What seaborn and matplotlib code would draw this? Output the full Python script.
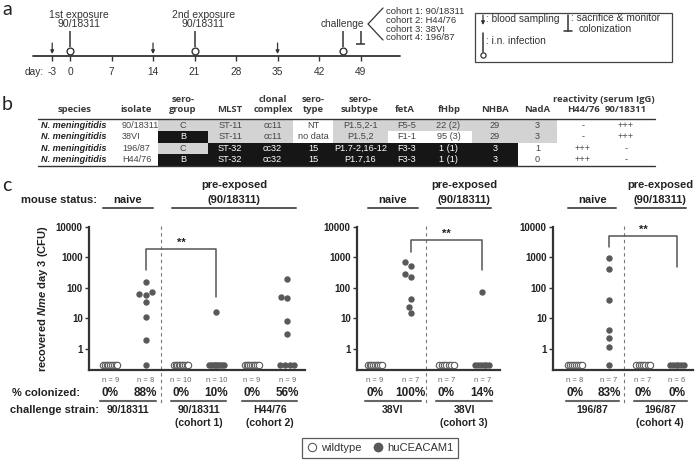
import matplotlib
matplotlib.use('Agg')
import matplotlib.pyplot as plt
import matplotlib.transforms as mtransforms
from matplotlib.lines import Line2D
from matplotlib.patches import Rectangle
import numpy as np
import pandas as pd
import seaborn as sns

# ---- a: immunisation schedule (days)
day_ticks = [-3, 0, 7, 14, 21, 28, 35, 42, 49]
blood_days = [-3, 14, 35]
exposure_days = [0, 21]
exposure_names = ["1st exposure", "2nd exposure"]
exposure_strain = "90/18311"
challenge_day = 46
sacrifice_day = 49
cohort_labels = ["cohort 1: 90/18311", "cohort 2: H44/76", "cohort 3: 38VI", "cohort 4: 196/87"]

# ---- b: strain table
species = ["N. meningitidis", "N. meningitidis", "N. meningitidis", "N. meningitidis"]
isolates = ["90/18311", "38VI", "196/87", "H44/76"]
serogroup = ["C", "B", "C", "B"]
mlst = ["ST-11", "ST-11", "ST-32", "ST-32"]
clonal_complex = ["cc11", "cc11", "cc32", "cc32"]
serotype = ["NT", "no data", "15", "15"]
serosubtype = ["P1.5,2-1", "P1.5,2", "P1.7-2,16-12", "P1.7,16"]
feta = ["F5-5", "F1-1", "F3-3", "F3-3"]
fhbp = ["22 (2)", "95 (3)", "1 (1)", "1 (1)"]
nhba = ["29", "29", "3", "3"]
nada = ["3", "3", "1", "0"]
igg_h44 = ["-", "-", "+++", "+++"]
igg_90 = ["+++", "+++", "-", "-"]
# 0 white, 1 grey, 2 black (shared alleles)
cell_shade = [
    [1, 1, 1, 0, 1, 1, 1, 1, 1],
    [2, 1, 1, 0, 1, 0, 0, 1, 1],
    [1, 2, 2, 2, 2, 2, 2, 2, 0],
    [2, 2, 2, 2, 2, 2, 2, 2, 0],
]

# ---- c: recovered Nme day 3, CFU per mouse (0 = not colonized)
p1_genotype = ["wt", "hu", "wt", "hu", "wt", "hu"]
p1_cfu = [
    [0, 0, 0, 0, 0, 0, 0, 0, 0],
    [160, 75, 65, 60, 35, 11, 2, 0],
    [0, 0, 0, 0, 0, 0, 0, 0, 0, 0],
    [16, 0, 0, 0, 0, 0, 0, 0, 0, 0],
    [0, 0, 0, 0, 0, 0, 0, 0, 0],
    [190, 52, 47, 8, 3, 0, 0, 0, 0],
]
p1_colonized = ["0%", "88%", "0%", "10%", "0%", "56%"]
p1_strains = ["90/18311", "90/18311\n(cohort 1)", "H44/76\n(cohort 2)"]

p2_genotype = ["wt", "hu", "wt", "hu"]
p2_cfu = [
    [0, 0, 0, 0, 0, 0, 0, 0, 0],
    [730, 540, 275, 220, 44, 24, 15],
    [0, 0, 0, 0, 0, 0, 0],
    [75, 0, 0, 0, 0, 0, 0],
]
p2_colonized = ["0%", "100%", "0%", "14%"]
p2_strains = ["38VI", "38VI\n(cohort 3)"]

p3_genotype = ["wt", "hu", "wt", "hu"]
p3_cfu = [
    [0, 0, 0, 0, 0, 0, 0, 0],
    [930, 430, 40, 4, 2.2, 1.1, 0],
    [0, 0, 0, 0, 0, 0, 0],
    [0, 0, 0, 0, 0, 0],
]
p3_colonized = ["0%", "83%", "0%", "0%"]
p3_strains = ["196/87", "196/87\n(cohort 4)"]

y_ticks = [1, 10, 100, 1000, 10000]
y_tick_labels = ["1", "10", "100", "1000", "10000"]

sns.set_style("ticks")
plt.rcParams['font.family'] = ['Liberation Sans', 'DejaVu Sans']
plt.rcParams['mathtext.fontset'] = 'custom'
plt.rcParams['mathtext.bfit'] = 'Liberation Sans:bold:italic'
plt.rcParams['mathtext.rm'] = 'Liberation Sans:bold'

W, H = 697, 462
fig = plt.figure(figsize=(W / 100, H / 100), dpi=100)
dark = '#333333'
dot = '#595959'


def box(x0, y0, x1, y1):
    # pixel box (y downwards) -> figure fraction rect
    return [x0 / W, 1 - y1 / H, (x1 - x0) / W, (y1 - y0) / H]


# overlay in pixel coordinates for texts / schematic parts
ov = fig.add_axes([0, 0, 1, 1])
ov.set_xlim(0, W)
ov.set_ylim(H, 0)
ov.set_axis_off()

# timeline axes: x in days, y in pixels
px_per_day, day0_px = 5.93, 70
axa = fig.add_axes([0, 0, 1, 1])
axa.set_xlim(-day0_px / px_per_day, (W - day0_px) / px_per_day)
axa.set_ylim(H, 0)
axa.set_axis_off()

# ---------------- panel a
ov.text(2, 1, "a", fontsize=14, family='Lato', va='top', color='#222')
axa.plot([-6.2, 55.6], [56, 56], color=dark, lw=1.3)
axa.vlines(day_ticks, 56, 61, color=dark, lw=1)
for d in day_ticks:
    axa.text(d, 72, str(d), ha='center', va='center', fontsize=7.3, color=dark)
axa.annotate("day:", xy=(day_ticks[0], 72), xytext=(-6, 0), textcoords='offset points',
             ha='right', va='center', fontsize=7.3, color=dark)
for d in blood_days:
    axa.annotate('', xy=(d, 54), xytext=(d, 43),
                 arrowprops=dict(arrowstyle='-|>', color=dark, lw=0.9, mutation_scale=5,
                                 shrinkA=0, shrinkB=0))
infect = exposure_days + [challenge_day]
axa.vlines(infect, 31, 47, color=dark, lw=1.1)
axa.scatter(infect, [50.5] * len(infect), s=24, facecolor='white', edgecolor=dark, lw=1, zorder=3)
for d, name in zip(exposure_days, exposure_names):
    axa.text(d + 1.5, 15, name, ha='center', va='center', fontsize=7.5, color=dark)
    axa.text(d + 1.5, 24, exposure_strain, ha='center', va='center', fontsize=7.5, color=dark)
axa.vlines(sacrifice_day, 31, 44, color=dark, lw=1.1)
axa.hlines(44, sacrifice_day - 0.7, sacrifice_day + 0.7, color=dark, lw=1.1)
ov.text(364, 24, "challenge", ha='right', va='center', fontsize=7.3, color=dark)
ov.plot([383, 368, 383], [8, 24, 40], color=dark, lw=0.9)
for k, lab in enumerate(cohort_labels):
    ov.text(386, 12 + 8.6 * k, lab, ha='left', va='center', fontsize=6.8, color=dark)

# legend box of panel a
ov.add_patch(Rectangle((475, 13), 197, 49, fill=False, edgecolor='#444', lw=0.9))
ov.annotate('', xy=(483, 25), xytext=(483, 15),
            arrowprops=dict(arrowstyle='-|>', color=dark, lw=0.9, mutation_scale=5, shrinkA=0, shrinkB=0))
ov.text(486, 19, ": blood sampling", ha='left', va='center', fontsize=7.3, color=dark)
ov.plot([568, 568], [15, 31], color=dark, lw=1.1)
ov.plot([564, 572], [31, 31], color=dark, lw=1.1)
ov.text(571, 18, ": sacrifice & monitor", ha='left', va='center', fontsize=7.3, color=dark)
ov.text(579, 29, "colonization", ha='left', va='center', fontsize=7.3, color=dark)
ov.plot([483, 483], [33, 52], color=dark, lw=1.1)
ov.scatter([483], [55], s=14, facecolor='white', edgecolor=dark, lw=0.9, zorder=3)
ov.text(486, 41, ": i.n. infection", ha='left', va='center', fontsize=7.3, color=dark)

# ---------------- panel b
ov.text(2, 110, "b", fontsize=14, family='Lato', va='baseline', color='#222')
hdr = dict(family='Open Sans', fontweight='bold', fontsize=6.8, color='#3a3a3a', ha='center', va='center')
headers = [("species", 75), ("isolate", 136), ("sero-\ngroup", 183), ("MLST", 230),
           ("clonal\ncomplex", 273), ("sero-\ntype", 313), ("sero-\nsubtype", 360),
           ("fetA", 405), ("fHbp", 449), ("NHBA", 495), ("NadA", 537)]
for lab, x in headers:
    lines = lab.split("\n")
    for k, line in enumerate(lines):
        ov.text(x, 110 - 11 * (len(lines) - 1 - k), line, **hdr)
ov.text(604, 99, "reactivity (serum IgG)", **hdr)
ov.text(583, 110, "H44/76", **hdr)
ov.text(626, 110, "90/18311", **hdr)

col_edges = [158, 208, 252, 293, 333, 388, 425, 472, 518, 557]
row_top, row_h = 119.5, 11.5
shade_col = {1: '#d3d3d3', 2: '#161616'}
body_cols = [serogroup, mlst, clonal_complex, serotype, serosubtype, feta, fhbp, nhba, nada]
for r in range(len(isolates)):
    yc = row_top + (r + 0.5) * row_h
    ov.text(41, yc, species[r], ha='left', va='center', fontsize=6.6,
            fontweight='bold', fontstyle='italic', color='#222')
    ov.text(122, yc, isolates[r], ha='left', va='center', fontsize=6.6, color='#444')
    for c, col in enumerate(body_cols):
        s = cell_shade[r][c]
        x0, x1 = col_edges[c], col_edges[c + 1]
        if s:
            ov.add_patch(Rectangle((x0, row_top + r * row_h), x1 - x0, row_h,
                                   facecolor=shade_col[s], edgecolor='none'))
        ov.text((x0 + x1) / 2, yc, col[r], ha='center', va='center', fontsize=6.6,
                color='white' if s == 2 else '#444')
    ov.text(583, yc, igg_h44[r], ha='center', va='center', fontsize=6.6, color='#444')
    ov.text(626, yc, igg_90[r], ha='center', va='center', fontsize=6.6, color='#444')
ov.plot([38, 655], [119, 119], color=dark, lw=1)
ov.plot([38, 655], [166, 166], color=dark, lw=1)

# ---------------- panel c
ov.text(2, 191, "c", fontsize=14, family='Lato', va='baseline', color='#222')
lab_bold = dict(fontweight='bold', color='#222')
ov.text(97, 200, "mouse status:", ha='right', va='center', fontsize=8, **lab_bold)
ov.text(12, 393, "% colonized:", ha='left', va='center', fontsize=8, **lab_bold)
ov.text(10, 410, "challenge strain:", ha='left', va='center', fontsize=8, **lab_bold)
ov.text(43, 299, r"recovered $\mathbfit{Nme}$ day 3 (CFU)", rotation=90, ha='center',
        va='center', fontsize=8, **lab_bold)

panels = [
    # data, genotypes, % colonized, strains, axes box (px), xlim, bracket (yL, ytop, yR)
    (p1_cfu, p1_genotype, p1_colonized, p1_strains, box(89, 227, 305, 370), (-0.6, 5.5), (270, 249, 297)),
    (p2_cfu, p2_genotype, p2_colonized, p2_strains, box(357, 227, 500, 370), (-0.5, 3.5), (252, 240, 270)),
    (p3_cfu, p3_genotype, p3_colonized, p3_strains, box(553, 227, 693, 370), (-0.65, 3.47), (247, 236, 267)),
]
zero_level = 0.3
zero_spread = 0.2
msize = 4.6

for cfu, geno, pct, strains, rect, xlim, (yl, yt, yr) in panels:
    ax = fig.add_axes(rect)
    ax.set_yscale('log')
    ax.set_ylim(0.2, 10000)
    ax.set_xlim(*xlim)

    hits = pd.DataFrame([(i, v) for i, vals in enumerate(cfu) for v in vals if v > 0],
                        columns=['pos', 'cfu'])
    sns.swarmplot(data=hits, x='pos', y='cfu', native_scale=True, orient='x',
                  color=dot, size=msize, linewidth=0, ax=ax)
    for i, (vals, g) in enumerate(zip(cfu, geno)):
        k = sum(1 for v in vals if v == 0)
        if k == 0:
            continue
        off = np.linspace(-zero_spread, zero_spread, k) if k > 1 else np.zeros(1)
        sns.scatterplot(x=i + off, y=np.full(k, zero_level), ax=ax, s=msize ** 2 * 1.0,
                        color='white' if g == 'wt' else dot, edgecolor=dot,
                        linewidth=0.8 if g == 'wt' else 0, legend=False, zorder=3)
    ax.set_xlim(*xlim)
    ax.set_ylim(0.2, 10000)
    ax.set_xticks([])
    ax.set_xlabel('')
    ax.set_ylabel('')
    ax.set_yticks(y_ticks)
    ax.set_yticklabels(y_tick_labels, fontweight='bold', fontsize=7, color='#222')
    ax.yaxis.set_minor_locator(matplotlib.ticker.NullLocator())
    ax.tick_params(axis='y', length=3, width=1, color=dark, pad=1.5)
    sns.despine(ax=ax)
    for sp in ('left', 'bottom'):
        ax.spines[sp].set_color(dark)
        ax.spines[sp].set_linewidth(1.6)
    ax.patch.set_alpha(0)

    T = mtransforms.blended_transform_factory(ax.transData, ov.transData)
    n_grp = len(cfu)
    # group separator
    ov.plot([1.43, 1.43], [226, 406], transform=T, ls=(0, (3, 3)), color='#777', lw=0.8, clip_on=False)
    # significance bracket
    ov.plot([1, 1, 3, 3], [yl, yt, yt, yr], transform=T, color='#555', lw=1.1, clip_on=False)
    ov.text(2, yt - 6, "**", transform=T, ha='center', va='center', fontsize=8, **lab_bold)
    # mouse status
    ov.text(0.5, 200, "naive", transform=T, ha='center', va='center', fontsize=8, **lab_bold)
    ov.plot([-0.2, 1.2], [208, 208], transform=T, color='#555', lw=1.4, clip_on=False)
    pre_c = (2 + n_grp - 1) / 2
    ov.text(pre_c, 185, "pre-exposed", transform=T, ha='center', va='center', fontsize=8, **lab_bold)
    ov.text(pre_c, 200, "(90/18311)", transform=T, ha='center', va='center', fontsize=8, **lab_bold)
    ov.plot([1.75, n_grp - 1 + 0.25], [208, 208], transform=T, color='#555', lw=1.4, clip_on=False)
    # per-group n and % colonized
    for i, vals in enumerate(cfu):
        ov.text(i, 380, f"n = {len(vals)}", transform=T, ha='center', va='center',
                fontsize=5.5, color='#666')
        ov.text(i, 393, pct[i], transform=T, ha='center', va='center', fontsize=8.5, **lab_bold)
    for j, s in enumerate(strains):
        cx = 2 * j + 0.5
        ov.plot([cx - 0.78, cx + 0.78], [401, 401], transform=T, color='#666', lw=1.5, clip_on=False)
        for k, line in enumerate(s.split("\n")):
            ov.text(cx, 410 + 13 * k, line, transform=T, ha='center', va='center',
                    fontsize=7.5, **lab_bold)

handles = [Line2D([], [], marker='o', ls='', mfc='white', mec=dot, ms=6, mew=0.8, label='wildtype'),
           Line2D([], [], marker='o', ls='', mfc=dot, mec=dot, ms=6, label='huCEACAM1')]
leg = fig.legend(handles=handles, loc='center', bbox_to_anchor=(380 / W, 1 - 448 / H), ncol=2,
                 frameon=True, fancybox=False, edgecolor=dark, fontsize=8, handletextpad=0.3,
                 columnspacing=1.0, borderpad=0.45, handlelength=1.0)
leg.get_frame().set_linewidth(0.9)
for t in leg.get_texts():
    t.set_color(dark)

fig.savefig("out.png", dpi=100)
